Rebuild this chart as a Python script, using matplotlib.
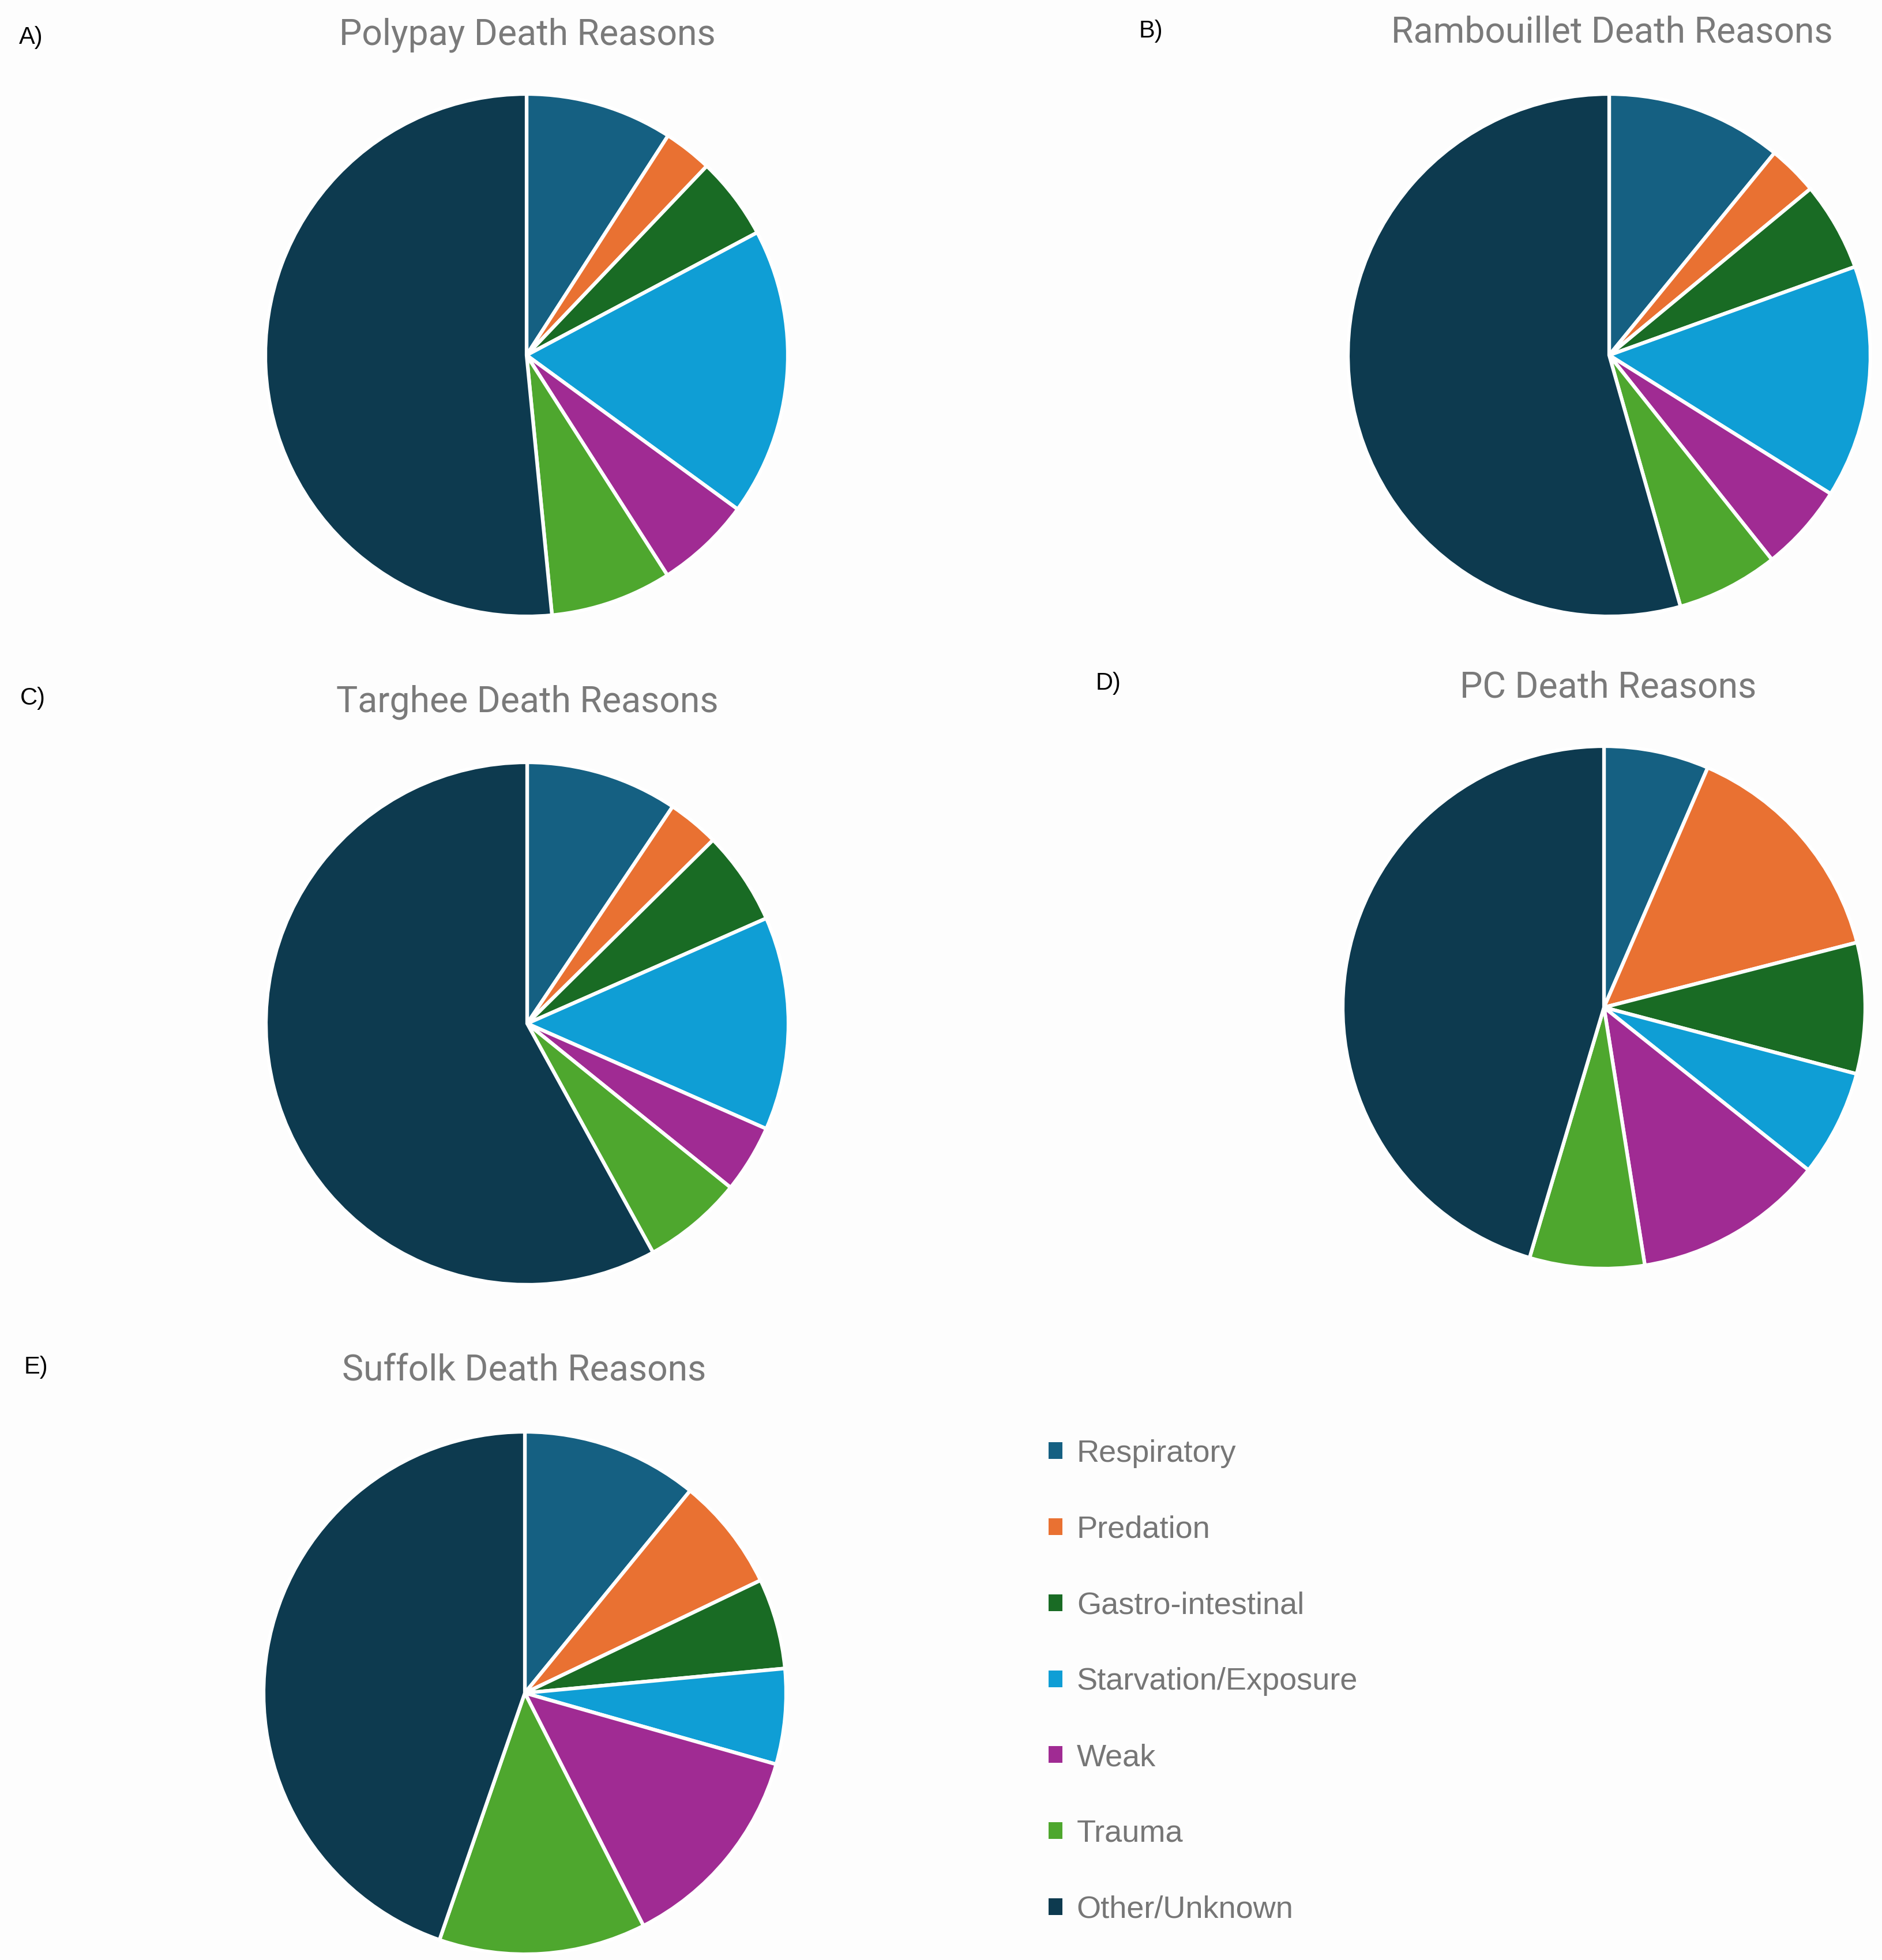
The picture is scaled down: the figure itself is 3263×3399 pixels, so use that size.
import matplotlib
matplotlib.use("Agg")
import matplotlib.pyplot as plt
from matplotlib.patches import Patch

# categories and colours
causes = ["Respiratory", "Predation", "Gastro-intestinal", "Starvation/Exposure",
          "Weak", "Trauma", "Other/Unknown"]
colors = ["#156082", "#E97132", "#196B24", "#0F9ED5", "#A02B93", "#4EA72E", "#0D3A4F"]

# percent of deaths per cause
polypay = [9.1, 3.0, 5.1, 17.8, 5.9, 7.5, 51.5]
rambouillet = [10.9, 3.1, 5.5, 14.4, 5.4, 6.3, 54.4]
targhee = [9.4, 3.2, 5.8, 13.2, 4.2, 6.2, 58.0]
pc = [6.5, 14.5, 8.1, 6.6, 11.8, 7.1, 45.4]
suffolk = [10.9, 7.0, 5.6, 5.9, 13.1, 12.8, 44.7]

W, H = 3263, 3399
R = 453


def add_pie(fig, values, title, label, cx, cy, tx, ty, lx, ly):
    ax = fig.add_axes([(cx - R) / W, 1 - (cy + R) / H, 2 * R / W, 2 * R / H])
    ax.pie(values, colors=colors, startangle=90, counterclock=False,
           wedgeprops=dict(edgecolor="white", linewidth=4.5))
    ax.set_xlim(-1.0, 1.0)
    ax.set_ylim(-1.0, 1.0)
    ax.set_aspect("equal")
    ax.axis("off")
    fig.text(tx / W, 1 - ty / H, title, ha="center", va="center",
             fontsize=45, color="#7a7a7a", family="Roboto")
    fig.text(lx / W, 1 - ly / H, label, ha="left", va="center",
             fontsize=30, color="black", family="Liberation Sans")


def main():
    fig = plt.figure(figsize=(W / 100, H / 100), dpi=100, facecolor="#FDFDFD")

    add_pie(fig, polypay, "Polypay Death Reasons", "A)", 913, 616, 914, 61, 33, 65)
    add_pie(fig, rambouillet, "Rambouillet Death Reasons", "B)", 2790, 616, 2795, 57, 1975, 54)
    add_pie(fig, targhee, "Targhee Death Reasons", "C)", 914, 1775, 914, 1218, 35, 1211)
    add_pie(fig, pc, "PC Death Reasons", "D)", 2781, 1747, 2788, 1192, 1900, 1185)
    add_pie(fig, suffolk, "Suffolk Death Reasons", "E)", 910, 2936, 909, 2377, 42, 2371)

    handles = [Patch(facecolor=c, edgecolor="none", label=n) for c, n in zip(colors, causes)]
    leg = fig.legend(handles=handles, loc="upper left",
                     bbox_to_anchor=(1818 / W, 1 - 2496 / H),
                     frameon=False, borderpad=0, borderaxespad=0,
                     prop={"family": "Liberation Sans", "size": 39},
                     labelspacing=1.51, handlelength=0.45, handleheight=0.45,
                     handletextpad=0.45)
    for t in leg.get_texts():
        t.set_color("#767676")

    fig.savefig("out.png", dpi=100, facecolor=fig.get_facecolor())


if __name__ == "__main__":
    main()
